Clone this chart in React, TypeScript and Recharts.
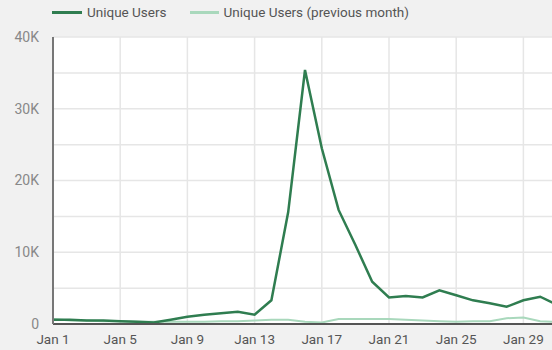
import { LineChart, Line, XAxis, YAxis, CartesianGrid } from 'recharts';

const days = [
  'Jan 1', 'Jan 2', 'Jan 3', 'Jan 4', 'Jan 5', 'Jan 6', 'Jan 7', 'Jan 8',
  'Jan 9', 'Jan 10', 'Jan 11', 'Jan 12', 'Jan 13', 'Jan 14', 'Jan 15', 'Jan 16',
  'Jan 17', 'Jan 18', 'Jan 19', 'Jan 20', 'Jan 21', 'Jan 22', 'Jan 23', 'Jan 24',
  'Jan 25', 'Jan 26', 'Jan 27', 'Jan 28', 'Jan 29', 'Jan 30', 'Jan 31',
];

const uniqueUsers = [
  600, 600, 500, 500, 400, 300, 200, 600, 1000, 1300, 1500, 1700, 1300, 3300, 15600, 35400,
  24500, 15900, 11000, 5900, 3700, 3900, 3700, 4700, 4000, 3300, 2900, 2400, 3300, 3800, 2700,
];

const previousMonth = [
  700, 500, 500, 400, 400, 300, 300, 300, 300, 300, 400, 400, 500, 600, 600, 300,
  200, 700, 700, 700, 700, 600, 500, 400, 300, 400, 400, 800, 900, 400, 300,
];

const yTicks = [0, 5000, 10000, 15000, 20000, 25000, 30000, 35000, 40000];

const data = days.map((day, i) => ({
  day,
  users: uniqueUsers[i],
  prev: previousMonth[i],
}));

const DARK = '#2f7d50';
const LIGHT = '#a9d8bc';
const FONT = 'Roboto, sans-serif';

// only every 10K gets a label, gridlines stay at 5K
const formatY = (v: number) => (v % 10000 === 0 ? (v === 0 ? '0' : `${v / 1000}K`) : '');

export default function App() {
  return (
    <div
      style={{
        position: 'absolute',
        top: 0,
        left: 0,
        width: 552,
        height: 350,
        overflow: 'hidden',
        background: '#f1f1f1',
        fontFamily: FONT,
      }}
    >
      {/* Leyenda */}
      <div
        style={{
          position: 'absolute',
          top: 4,
          left: 52,
          display: 'flex',
          alignItems: 'center',
          fontSize: 13.5,
          color: '#555',
          zIndex: 2,
        }}
      >
        <div style={{ width: 30, height: 3, background: DARK, marginRight: 5 }} />
        <span>Unique Users</span>
        <div style={{ width: 29, height: 3, background: LIGHT, marginLeft: 23, marginRight: 5 }} />
        <span>Unique Users (previous month)</span>
      </div>

      <LineChart
        width={562}
        height={350}
        data={data}
        margin={{ top: 37, right: 5, bottom: 0, left: 0 }}
      >
        <CartesianGrid stroke="#e6e6e6" strokeWidth={1.5} fill="#ffffff" />
        <XAxis
          dataKey="day"
          interval={3}
          axisLine={{ stroke: '#555', strokeWidth: 2 }}
          tickLine={false}
          height={26}
          tickMargin={4}
          tick={{ fill: '#555', fontSize: 13.5, fontFamily: FONT }}
        />
        <YAxis
          domain={[0, 40000]}
          ticks={yTicks}
          tickFormatter={formatY}
          width={53}
          interval={0}
          axisLine={{ stroke: '#777', strokeWidth: 2 }}
          tickLine={false}
          tickMargin={8}
          tick={{ fill: '#888', fontSize: 14, fontFamily: FONT }}
        />
        <Line
          type="linear"
          dataKey="prev"
          stroke={LIGHT}
          strokeWidth={2}
          dot={false}
          isAnimationActive={false}
        />
        <Line
          type="linear"
          dataKey="users"
          stroke={DARK}
          strokeWidth={2.5}
          dot={false}
          isAnimationActive={false}
        />
      </LineChart>
    </div>
  );
}
